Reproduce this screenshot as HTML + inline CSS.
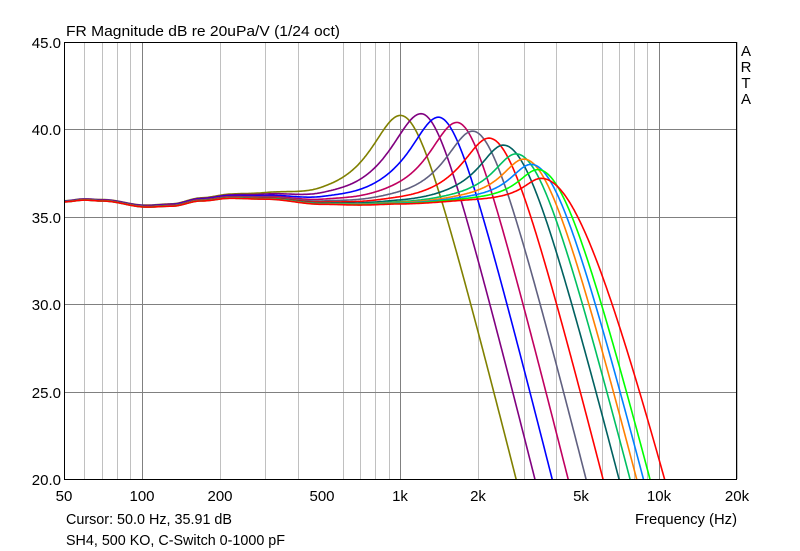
<!DOCTYPE html>
<html><head><meta charset="utf-8"><style>
html,body{margin:0;padding:0;background:#fff;}
svg{display:block;font-family:"Liberation Sans",Arial,sans-serif;font-size:15px;}
</style></head><body>
<svg id="s" width="800" height="551" viewBox="0 0 800 551" xmlns="http://www.w3.org/2000/svg">
<rect width="800" height="551" fill="#fff"/>
<g id="grid"></g>
<defs><clipPath id="cp"><rect x="64" y="42" width="673" height="437"/></clipPath></defs>
<g id="curves" clip-path="url(#cp)" fill="none" stroke-width="1.6" stroke-linejoin="round"></g>
<rect x="64.5" y="42.5" width="672" height="437" fill="none" stroke="#000" stroke-width="1"/>
<text x="66" y="36" fill="#000" textLength="274" lengthAdjust="spacingAndGlyphs">FR Magnitude dB re 20uPa/V (1/24 oct)</text>
<g text-anchor="end" fill="#000">
<text x="61" y="48">45.0</text><text x="61" y="135">40.0</text><text x="61" y="223">35.0</text>
<text x="61" y="310">30.0</text><text x="61" y="398">25.0</text><text x="61" y="485">20.0</text>
</g>
<g text-anchor="middle" fill="#000">
<text x="64" y="501">50</text><text x="142" y="501">100</text><text x="220" y="501">200</text>
<text x="322" y="501">500</text><text x="400" y="501">1k</text><text x="478" y="501">2k</text>
<text x="581" y="501">5k</text><text x="659" y="501">10k</text><text x="737" y="501">20k</text>
<text x="746" y="56">A</text><text x="746" y="72">R</text><text x="746" y="88">T</text><text x="746" y="104">A</text>
</g>
<text x="66" y="524" fill="#000" textLength="166" lengthAdjust="spacingAndGlyphs">Cursor: 50.0 Hz, 35.91 dB</text>
<text x="635" y="524" fill="#000" textLength="102" lengthAdjust="spacingAndGlyphs">Frequency (Hz)</text>
<text x="66" y="545" fill="#000" textLength="219" lengthAdjust="spacingAndGlyphs">SH4, 500 KO, C-Switch 0-1000 pF</text>
</svg>
<script>
var X=function(f){return 64+Math.log10(f/50)*258.6;};
var Y=function(d){return 42+(45-d)*87.4/5;};
var g=document.getElementById('grid'),h='';
[60,70,80,90,200,300,400,600,700,800,900,2000,3000,4000,6000,7000,8000,9000,20000].forEach(function(f){var x=Math.round(X(f))+0.5;h+='<line x1="'+x+'" y1="42" x2="'+x+'" y2="479" stroke="#c0c0c0"/>';});
[100,1000,10000].forEach(function(f){var x=Math.round(X(f))+0.5;h+='<line x1="'+x+'" y1="42" x2="'+x+'" y2="479" stroke="#808080"/>';});
[40,35,30,25].forEach(function(d){var y=Math.round(Y(d))+0.5;h+='<line x1="64" y1="'+y+'" x2="737" y2="'+y+'" stroke="#808080"/>';});
g.innerHTML=h;
var bp=[[50,35.85],[60,35.95],[70,35.9],[105,35.55],[130,35.6],[170,35.9],[220,36.05],[300,36.0],[500,35.7],[700,35.65],[1000,35.7],[2000,35.85],[20000,35.85]];
function base(f){var l=Math.log10(f);for(var i=0;i<bp.length-1;i++){var a=Math.log10(bp[i][0]),b=Math.log10(bp[i+1][0]);if(l<=b){var t=(l-a)/(b-a);t=(1-Math.cos(Math.PI*t))/2;return bp[i][1]+t*(bp[i+1][1]-bp[i][1]);}}return 35.85;}
var C=[["#808000",1000,40.8,2800,0.15],["#800080",1200,40.9,3310,0.15],["#0000ff",1400,40.7,3860,0.145],["#c00060",1650,40.4,4450,0.14],["#606080",1900,39.9,5220,0.135],["#ff0000",2200,39.5,6070,0.13],["#006060",2500,39.1,7000,0.12],["#00c060",2800,38.6,7720,0.115],["#ff8000",3000,38.3,8190,0.11],["#0080ff",3200,38.0,8700,0.105],["#00ff00",3400,37.7,9220,0.1],["#ff0000",3500,37.2,10500,0.09]];
var s=60,out='';
C.forEach(function(c){var fp=c[1],pk=c[2],w=c[4];var A=pk-base(fp);var ux=Math.log10(c[3]/fp),d=(pk-20)/s;var cc=(ux*ux-d*d)/(2*d);if(cc<0.02)cc=0.02;
var p='';for(var x=64;x<=737;x+=1){var f=50*Math.pow(10,(x-64)/258.6);var u=Math.log10(f/fp);var v;
if(u<=0){v=base(f)+A/(1+(u/w)*(u/w));}else{v=pk-s*(Math.sqrt(u*u+cc*cc)-cc);}
var y=Y(v);if(y>500){p+=(p?'L':'M')+x+' 500';break;}p+=(p?'L':'M')+x+' '+y.toFixed(1);}
out+='<path d="'+p+'" stroke="'+c[0]+'"/>';});
document.getElementById('curves').innerHTML=out;
</script>
</body></html>
